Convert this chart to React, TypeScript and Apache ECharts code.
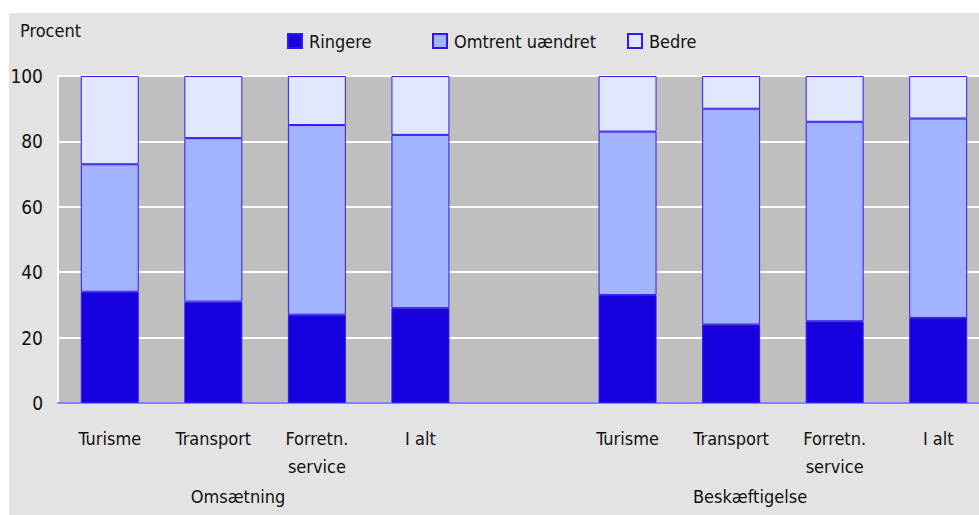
import React, { useEffect, useRef } from "react";
import * as echarts from "echarts";

const categories = ["Turisme", "Transport", "Forretn.\nservice", "I alt", "", "Turisme", "Transport", "Forretn.\nservice", "I alt"];
const ringere = [34, 31, 27, 29, null, 33, 24, 25, 26];
const omtrent = [39, 50, 58, 53, null, 50, 66, 61, 61];
const bedre = [27, 19, 15, 18, null, 17, 10, 14, 13];
const yTicks = [0, 20, 40, 60, 80, 100];
const groupLabels = ["Omsætning", "Beskæftigelse"];
const seriesNames = ["Ringere", "Omtrent uændret", "Bedre"];

const FONT = "'DejaVu Sans Condensed', 'DejaVu Sans', sans-serif";

export default function App() {
  const ref = useRef<HTMLDivElement>(null);
  useEffect(() => {
    if (!ref.current) return;
    const chart = echarts.init(ref.current, null, { renderer: "svg" });
    const border = "#3318ee";
    const mk = (name: string, data: (number | null)[], color: string) => ({
      name,
      type: "bar",
      stack: "s",
      data,
      barWidth: 58,
      itemStyle: { color, borderColor: border, borderWidth: 1 },
    });
    const legendLefts = [287, 432, 627];
    chart.setOption({
      animation: false,
      backgroundColor: "#ffffff",
      textStyle: { fontFamily: FONT, color: "#111" },
      graphic: [
        { type: "rect", z: -10, shape: { x: 9, y: 13, width: 990, height: 510 }, style: { fill: "#e3e3e3" } },
        { type: "text", left: 20, top: 21, style: { text: "Procent", font: `18px ${FONT}`, fill: "#111" } },
        { type: "text", x: 238, y: 496, style: { text: groupLabels[0], font: `18px ${FONT}`, fill: "#111", align: "center", verticalAlign: "middle" } },
        { type: "text", x: 750, y: 496, style: { text: groupLabels[1], font: `18px ${FONT}`, fill: "#111", align: "center", verticalAlign: "middle" } },
      ],
      legend: seriesNames.map((n, i) => ({
        left: legendLefts[i] - 5,
        top: 27,
        icon: "rect",
        itemWidth: 14,
        itemHeight: 14,
        itemGap: 6,
        textStyle: { fontFamily: FONT, fontSize: 18, color: "#111", padding: [0, 0, 0, 2] },
        data: [n],
      })),
      grid: { left: 58, top: 76, bottom: 112, right: 0, show: true, backgroundColor: "#bfbfbf", borderWidth: 0 },
      xAxis: {
        type: "category",
        data: categories,
        axisTick: { show: false },
        axisLine: { show: true, lineStyle: { color: "#8a80f5", width: 2 } },
        axisLabel: { interval: 0, margin: 21, fontSize: 18, lineHeight: 28, color: "#111", fontFamily: FONT },
      },
      yAxis: {
        type: "value",
        min: yTicks[0],
        max: yTicks[yTicks.length - 1],
        interval: 20,
        axisLine: { show: true, lineStyle: { color: "#ffffff", width: 2 } },
        axisTick: { show: false },
        splitLine: { lineStyle: { color: "#ffffff", width: 2 } },
        axisLabel: { margin: 15, fontSize: 19, color: "#111", fontFamily: FONT },
      },
      series: [
        mk(seriesNames[0], ringere, "#1600e0"),
        mk(seriesNames[1], omtrent, "#a2b3ff"),
        mk(seriesNames[2], bedre, "#e0e7ff"),
      ],
    });
    return () => chart.dispose();
  }, []);
  return (
    <div style={{ position: "absolute", left: 0, top: 0, width: 979, height: 515, overflow: "hidden" }}>
      <div ref={ref} style={{ width: 990, height: 515 }} />
    </div>
  );
}
